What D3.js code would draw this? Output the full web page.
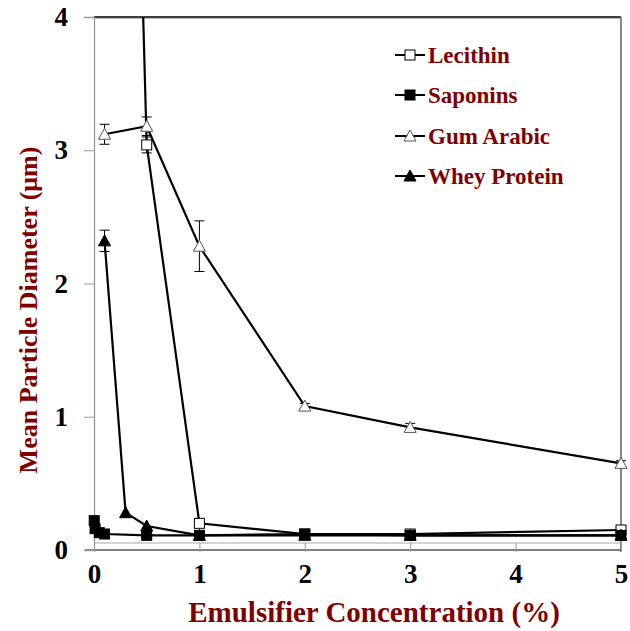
<!DOCTYPE html>
<html><head><meta charset="utf-8">
<script src="https://cdn.jsdelivr.net/npm/d3@7"></script>
<style>body{margin:0;background:#fff}svg{display:block}text{font-family:"Liberation Serif","Times New Roman",serif;font-weight:bold}</style>
</head><body><svg id="c" width="630" height="631"></svg>
<script>
const seriesNames = ["Lecithin", "Saponins", "Gum Arabic", "Whey Protein"];
const lecithinX = [0.1, 0.5, 1, 2, 3, 5];
const lecithinY = [14.6, 3.04, 0.20, 0.12, 0.12, 0.15];
const lecithinErr = [0, 0.06, 0, 0, 0, 0];
const saponinsX = [0.002, 0.01, 0.05, 0.1, 0.5, 1, 2, 3, 5];
const saponinsY = [0.22, 0.16, 0.13, 0.12, 0.11, 0.11, 0.12, 0.11, 0.11];
const gumX = [0.1, 0.5, 1, 2, 3, 5];
const gumY = [3.12, 3.18, 2.28, 1.08, 0.92, 0.65];
const gumErr = [0.075, 0.07, 0.19, 0.02, 0.03, 0.02];
const wheyX = [0.1, 0.3, 0.5, 1, 2, 3, 5];
const wheyY = [2.32, 0.28, 0.18, 0.11, 0.11, 0.11, 0.11];
const wheyErr = [0.08, 0, 0, 0, 0, 0, 0];
const xTicks = [0, 1, 2, 3, 4, 5];
const yTicks = [0, 1, 2, 3, 4];
const xTitle = "Emulsifier Concentration (%)";
const yTitle = "Mean Particle Diameter (μm)";

const svg = d3.select("#c");
const L = 94, R = 621, T = 17, B = 550;
const x = d3.scaleLinear().domain([0, 5]).range([L, R]);
const y = d3.scaleLinear().domain([0, 4]).range([B, T]);
const red = "#800000";

svg.append("defs").append("clipPath").attr("id", "clip")
  .append("rect").attr("x", L - 12).attr("y", T).attr("width", R - L + 24).attr("height", B - T + 10);

// frame
svg.append("line").attr("x1", L).attr("x2", R).attr("y1", T).attr("y2", T).attr("stroke", "#000").attr("stroke-width", 1.5);
svg.append("line").attr("x1", L).attr("x2", R).attr("y1", T + 1.5).attr("y2", T + 1.5).attr("stroke", "#bbb").attr("stroke-width", 1);
svg.append("line").attr("x1", R).attr("x2", R).attr("y1", T).attr("y2", B + 2).attr("stroke", "#888").attr("stroke-width", 2);
svg.append("line").attr("x1", L).attr("x2", R).attr("y1", y(0) - 7).attr("y2", y(0) - 7).attr("stroke", "#aaa").attr("stroke-width", 1.2);
svg.append("line").attr("x1", L - 9).attr("x2", R).attr("y1", y(0)).attr("y2", y(0)).attr("stroke", "#555").attr("stroke-width", 1.3);

// y axis
const yAx = svg.append("g").attr("transform", `translate(${L},0)`)
  .call(d3.axisLeft(y).tickValues(yTicks).tickFormat(d3.format("d")).tickSize(10).tickPadding(16));
yAx.select(".domain").attr("stroke", "#999").attr("stroke-width", 1.3);
yAx.selectAll(".tick line").attr("stroke", "#999");
yAx.selectAll("text").attr("font-size", 27).attr("fill", "#000").attr("font-family", "Liberation Serif").attr("font-weight", "bold");

// x axis
const xAx = svg.append("g").attr("transform", `translate(0,${y(0) - 7})`)
  .call(d3.axisBottom(x).tickValues(xTicks).tickFormat(d3.format("d")).tickSize(9).tickPadding(12));
xAx.select(".domain").remove();
xAx.selectAll(".tick line").attr("stroke", "#999");
xAx.selectAll("text").attr("font-size", 27).attr("fill", "#000").attr("font-family", "Liberation Serif").attr("font-weight", "bold");

const plot = svg.append("g").attr("clip-path", "url(#clip)");
const line = d3.line().x(d => x(d[0])).y(d => y(d[1]));

function series(xs, ys, errs, marker, fill) {
  const pts = xs.map((v, i) => [v, ys[i], errs ? errs[i] : 0]);
  const g = plot.append("g");
  g.append("path").attr("d", line(pts)).attr("fill", "none").attr("stroke", "#000").attr("stroke-width", 2.2);
  pts.filter(p => p[2] > 0).forEach(p => {
    const cx = x(p[0]);
    g.append("line").attr("x1", cx).attr("x2", cx).attr("y1", y(p[1] - p[2])).attr("y2", y(p[1] + p[2])).attr("stroke", "#000").attr("stroke-width", 1);
    [p[1] - p[2], p[1] + p[2]].forEach(v => g.append("line").attr("x1", cx - 5).attr("x2", cx + 5).attr("y1", y(v)).attr("y2", y(v)).attr("stroke", "#000").attr("stroke-width", 1));
  });
  pts.forEach(p => drawMarker(g, x(p[0]), y(p[1]), marker, fill));
}
function drawMarker(g, cx, cy, marker, fill) {
  if (marker === "square") {
    g.append("rect").attr("x", cx - 5).attr("y", cy - 5).attr("width", 10).attr("height", 10)
      .attr("fill", fill).attr("stroke", "#000").attr("stroke-width", 1);
  } else {
    g.append("path").attr("d", `M${cx},${cy - 6}L${cx + 6},${cy + 5}L${cx - 6},${cy + 5}Z`)
      .attr("fill", fill).attr("stroke", fill === "#000" ? "#000" : "#555").attr("stroke-width", 1);
  }
}
series(lecithinX, lecithinY, lecithinErr, "square", "#fff");
series(saponinsX, saponinsY, null, "square", "#000");
series(gumX, gumY, gumErr, "triangle", "#fff");
series(wheyX, wheyY, wheyErr, "triangle", "#000");

// legend
const legMarkers = [["square", "#fff"], ["square", "#000"], ["triangle", "#fff"], ["triangle", "#000"]];
const legY = [55, 95, 136, 176];
seriesNames.forEach((n, i) => {
  const g = svg.append("g");
  g.append("line").attr("x1", 395).attr("x2", 425).attr("y1", legY[i]).attr("y2", legY[i]).attr("stroke", "#000").attr("stroke-width", 2);
  drawMarker(g, 410, legY[i], legMarkers[i][0], legMarkers[i][1]);
  g.append("text").attr("x", 428).attr("y", legY[i] + 8).attr("font-size", 23).attr("fill", red).text(n);
});

// titles
svg.append("text").attr("x", 374).attr("y", 622).attr("text-anchor", "middle").attr("font-size", 29).attr("fill", red).text(xTitle);
svg.append("text").attr("transform", "translate(37,310) rotate(-90)").attr("text-anchor", "middle").attr("font-size", 26).attr("fill", red).text(yTitle);
</script></body></html>
